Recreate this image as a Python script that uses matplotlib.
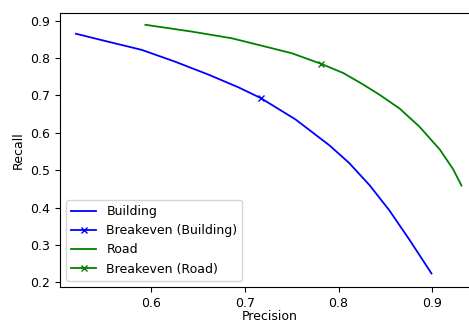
import matplotlib
matplotlib.use('Agg')
import matplotlib.pyplot as plt

plt.rcParams['font.size'] = 9

# precision / recall
bld_precision = [0.520, 0.554, 0.590, 0.625, 0.661, 0.693, 0.717, 0.754, 0.790,
                 0.811, 0.833, 0.854, 0.875, 0.899]
bld_recall = [0.865, 0.844, 0.822, 0.791, 0.756, 0.722, 0.693, 0.636, 0.567,
              0.520, 0.460, 0.393, 0.316, 0.224]
road_precision = [0.594, 0.643, 0.686, 0.715, 0.750, 0.781, 0.805, 0.825, 0.843, 0.865,
                  0.886, 0.908, 0.922, 0.931]
road_recall = [0.889, 0.871, 0.853, 0.835, 0.813, 0.785, 0.760, 0.731, 0.703, 0.665,
               0.617, 0.555, 0.503, 0.459]
bld_breakeven = (0.717, 0.693)
road_breakeven = (0.781, 0.785)

fig = plt.figure(figsize=(4.69, 3.22), dpi=100)
ax = fig.add_axes([0.128, 0.109, 0.896, 0.85])

ax.plot(bld_precision, bld_recall, 'b-', lw=1.3, label='Building')
ax.plot([bld_breakeven[0]], [bld_breakeven[1]], 'bx-', lw=1.3, ms=5, label='Breakeven (Building)')
ax.plot(road_precision, road_recall, 'g-', lw=1.3, label='Road')
ax.plot([road_breakeven[0]], [road_breakeven[1]], 'gx-', lw=1.3, ms=5, label='Breakeven (Road)')

ax.set_xlim(0.503, 0.951)
ax.set_ylim(0.188, 0.92)
ax.set_xticks([0.6, 0.7, 0.8, 0.9])
ax.set_xlabel('Precision', labelpad=0)
ax.set_ylabel('Recall')
ax.legend(loc='lower left')

fig.savefig('out.png', dpi=100)
